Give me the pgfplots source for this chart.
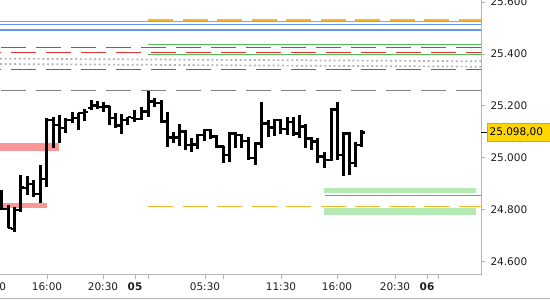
\documentclass[border=0pt]{standalone}
\usepackage{fontspec}
\setmainfont{DejaVu Sans}
\usepackage{pgfplots}
\usepackage{pgfplotstable}
\pgfplotsset{compat=1.18}
\definecolor{cred}{RGB}{230,50,50}
\definecolor{cblue}{RGB}{100,150,240}
\definecolor{cgreen}{RGB}{80,190,80}
\definecolor{corange}{RGB}{250,180,40}
\definecolor{cgray}{RGB}{160,160,160}
\definecolor{cdgray}{RGB}{128,128,128}
\definecolor{cdot}{RGB}{180,180,180}
\definecolor{cpink}{RGB}{250,150,150}
\definecolor{clgreen}{RGB}{180,235,180}
\definecolor{axisgray}{RGB}{180,180,180}
\definecolor{labelcol}{RGB}{30,30,30}
\definecolor{cyellow}{RGB}{255,214,0}
\definecolor{cyelborder}{RGB}{215,170,0}

\pgfplotstableread{
x o h l c
1.5 24869 24876 24798 24802
8.5 24802 24818 24728 24729
14.5 24725 24811 24715 24798
20.5 24798 24933 24792 24884
27.5 24883 24930 24856 24899
33.5 24899 24914 24850 24860
40.5 24860 24972 24825 24918
46.5 24918 25153 24888 25146
53.5 25146 25158 25036 25126
59.5 25126 25165 25056 25115
65.5 25115 25152 25094 25146
72.5 25146 25178 25133 25153
78.5 25153 25173 25107 25173
84.5 25172 25188 25142 25176
91.5 25192 25223 25184 25201
97.5 25201 25219 25188 25196
103.5 25196 25216 25178 25197
109.5 25197 25200 25126 25153
115.5 25153 25171 25114 25124
121.5 25124 25168 25090 25146
127.5 25146 25158 25126 25157
134.5 25153 25184 25139 25150
141.5 25150 25197 25146 25178
148.5 25178 25257 25158 25216
154.5 25216 25232 25197 25211
161.5 25211 25223 25133 25139
167.5 25139 25178 25043 25077
173.5 25077 25100 25056 25079
179.5 25079 25129 25046 25100
185.5 25100 25107 25030 25049
191.5 25049 25075 25023 25050
197.5 25050 25090 25034 25088
204.5 25088 25111 25064 25107
210.5 25107 25111 25072 25081
216.5 25081 25088 25039 25043
223.5 25043 25046 24978 25010
229.5 25010 25100 24985 25094
235.5 25094 25098 25039 25088
241.5 25088 25090 25036 25064
248.5 25064 25081 24991 24999
255.5 24999 25060 24972 25056
261.5 25056 25214 25036 25133
268.5 25133 25146 25081 25116
274.5 25116 25149 25085 25146
280.5 25146 25148 25090 25111
287.5 25111 25156 25088 25137
293.5 25137 25158 25085 25094
299.5 25094 25165 25075 25120
305.5 25120 25129 25036 25075
311.5 25075 25081 25030 25062
317.5 25062 25077 24978 25004
324.5 25004 25023 24959 24991
331.5 24991 25193 24987 25186
337.5 25186 25214 24991 25010
343.5 25010 25100 24930 25094
349.5 25094 25098 24933 24979
355.5 24979 25062 24966 25049
361.5 25049 25107 25043 25098
}\ohlc

\begin{document}
\begin{tikzpicture}
\useasboundingbox (0,0) rectangle (550pt,300pt);
\begin{axis}[
  at={(0pt,25pt)}, anchor=south west,
  scale only axis, width=481pt, height=275pt,
  xmin=0, xmax=481, ymin=24547.7, ymax=25608.3,
  clip=false,
  axis x line*=bottom, axis y line*=right,
  axis line style={draw=axisgray, line width=1pt},
  tick align=outside, major tick length=4pt,
  tick style={draw=axisgray, line width=0.8pt},
  ticklabel style={font=\fontsize{10.5}{12}\selectfont, text=labelcol},
  yticklabel style={xshift=2pt},
  ytick={24600,24800,25000,25200,25400,25600},
  yticklabels={24.600,24.800,25.000,25.200,25.400,25.600},
  xtick={47,103,135,148,205,223,281,337,395,427,438},
  xticklabels={16:00,20:30,\textbf{05},,05:30,,11:30,16:00,20:30,\textbf{06},},
  extra y ticks={25098}, extra y tick labels={},
  extra y tick style={major tick length=6pt, tick style={draw=black, line width=1pt}},
]
% bands
\addplot[cpink, line width=8pt] coordinates {(0,25039.5) (59,25039.5)};
\addplot[cpink, line width=5pt] coordinates {(0,24817) (47,24817)};
\addplot[clgreen, line width=5pt] coordinates {(324,24874) (476,24874)};
\addplot[clgreen, line width=6.5pt] coordinates {(324,24792) (476,24792)};
% horizontal lines
\addplot[cgray, line width=1pt] coordinates {(0,25525) (481,25525)};
\addplot[corange, line width=2pt, dash pattern=on 25pt off 9.5pt] coordinates {(148.3,25530) (481,25530)};
\addplot[cblue, line width=1.2pt] coordinates {(0,25514.6) (481,25514.6)};
\addplot[cblue, line width=1.2pt] coordinates {(0,25492.6) (481,25492.6)};
\addplot[cgreen, line width=1pt] coordinates {(148.3,25434.8) (481,25434.8)};
\addplot[cred, line width=1.2pt, dash pattern=on 25pt off 10pt, dash phase=34pt] coordinates {(0,25426) (481,25426)};
\addplot[cred, line width=1.2pt, dash pattern=on 25pt off 10pt, dash phase=24pt] coordinates {(0,25406.6) (481,25406.6)};
\addplot[cgreen, line width=1pt] coordinates {(148.3,25396.2) (481,25396.2)};
\addplot[cdot, line width=1.7pt, dash pattern=on 2pt off 2.7pt] coordinates {(0,25382) (481,25372)};
\addplot[cdot, line width=1.7pt, dash pattern=on 2pt off 2.7pt] coordinates {(0,25361.5) (481,25351)};
\addplot[cred, line width=1.2pt, dash pattern=on 25pt off 10pt, dash phase=24pt] coordinates {(0,25341) (481,25341)};
\addplot[cdgray, line width=1.2pt, dash pattern=on 25pt off 10pt, dash phase=34pt] coordinates {(0,25260) (481,25260)};
\addplot[corange, line width=1pt, dash pattern=on 25pt off 9.5pt] coordinates {(148.3,24811) (481,24811)};
\addplot[cgreen, line width=1pt] coordinates {(325,24852.4) (481,24852.4)};
% OHLC bars
\addplot[draw=none, mark=none, error bars/.cd, y dir=minus, y explicit, error mark=none,
  error bar style={draw=black, line width=3pt}]
  table[x=x, y=h, y error expr=\thisrow{h}-\thisrow{l}] {\ohlc};
\addplot[draw=none, mark=none, error bars/.cd, x dir=minus, x fixed=3.5, error mark=none,
  error bar style={draw=black, line width=2.6pt}]
  table[x=x, y=o] {\ohlc};
\addplot[draw=none, mark=none, error bars/.cd, x dir=plus, x fixed=3.5, error mark=none,
  error bar style={draw=black, line width=2.6pt}]
  table[x=x, y=c] {\ohlc};
% cut label at left and price box
\node[font=\fontsize{10.5}{12}\selectfont, text=labelcol] at (axis cs:-9,24547.7) [yshift=-11.7pt] {11:30};
\node[anchor=west, xshift=5.7pt, fill=cyellow, draw=cyelborder, line width=0.6pt,
  minimum height=17.7pt, inner xsep=2.6pt, text width=64pt, align=left,
  font=\fontsize{10.5}{12}\selectfont, text=black] at (axis cs:481,25098) {25.098,00};
\end{axis}
\draw[axisgray, line width=1pt] (0,1pt) -- (550pt,1pt);
\end{tikzpicture}
\end{document}
